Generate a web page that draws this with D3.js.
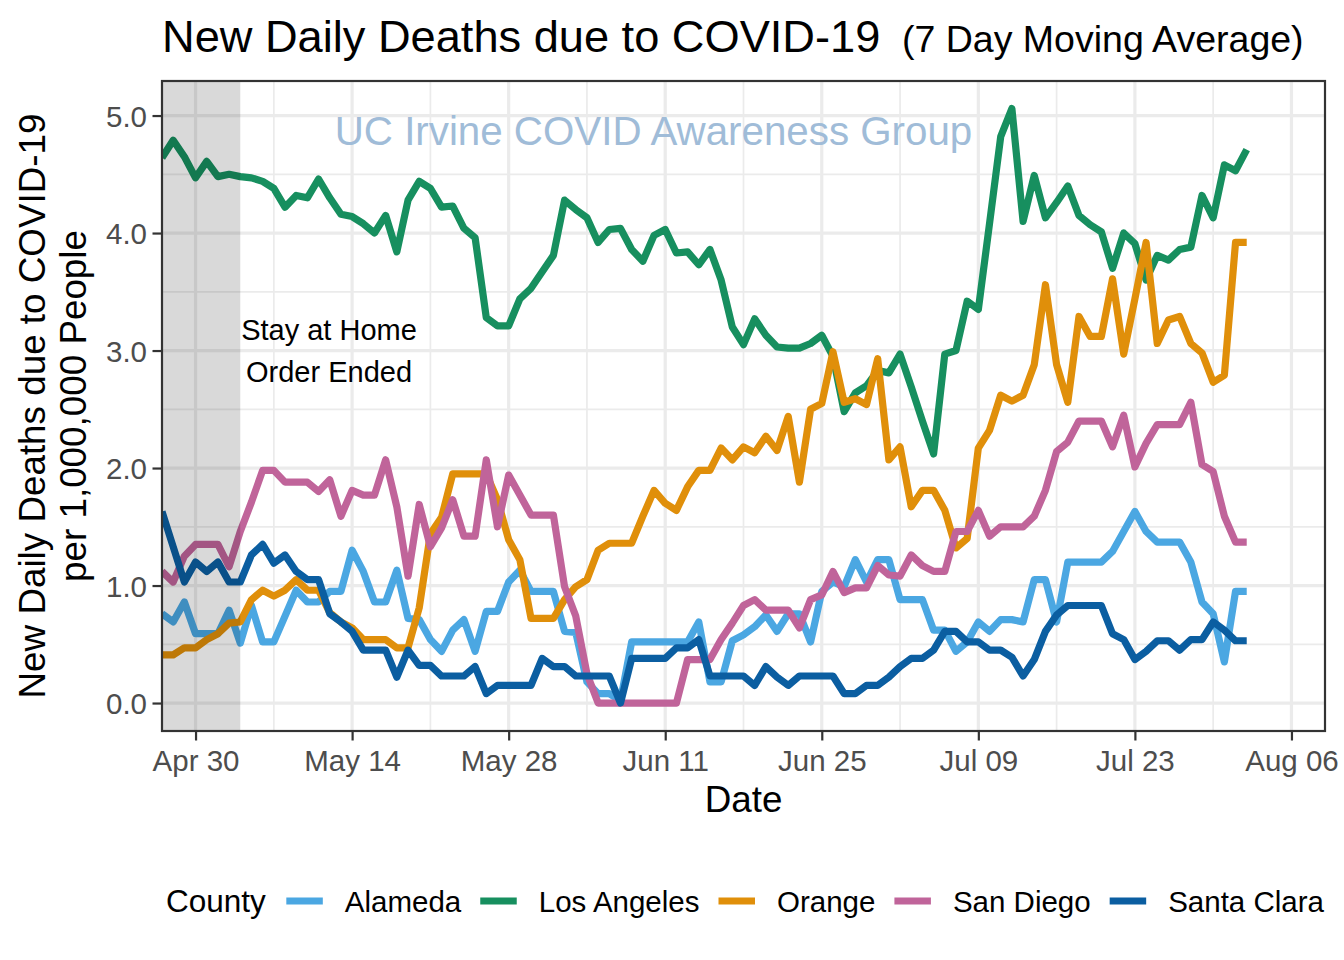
<!DOCTYPE html>
<html><head><meta charset="utf-8">
<script src="https://cdn.jsdelivr.net/npm/d3@7"></script>
<style>
body{margin:0;background:#fff}
svg{display:block}
text{font-family:"Liberation Sans",Arial,Helvetica,sans-serif}
</style>
</head><body>
<svg id="chart" width="1344" height="960"></svg>
<script>
// ---------- data ----------
const firstDate = "2020-04-27";
const lastDate  = "2020-08-02";
const xLimits   = ["2020-04-27", "2020-08-09"];
const xTickDates  = ["2020-04-30","2020-05-14","2020-05-28","2020-06-11","2020-06-25","2020-07-09","2020-07-23","2020-08-06"];
const xMinorDates = ["2020-05-07","2020-05-21","2020-06-04","2020-06-18","2020-07-02","2020-07-16","2020-07-30"];
const yLimits = [-0.238, 5.294];
const yTicks  = [0, 1, 2, 3, 4, 5];
const yMinor  = [0.5, 1.5, 2.5, 3.5, 4.5];
const stayHomeEnd = "2020-05-04";

const counties = ["Alameda", "Los Angeles", "Orange", "San Diego", "Santa Clara"];
const countyColors = ["#4BA7E2", "#178F5F", "#E08F0A", "#C0649A", "#0B5EA1"];

const alameda = [0.76,0.69,0.86,0.59,0.59,0.59,0.79,0.51,0.83,0.52,0.52,0.74,0.96,0.86,0.86,0.95,0.95,1.30,1.12,0.86,
  0.86,1.13,0.72,0.71,0.54,0.44,0.62,0.71,0.44,0.78,0.78,1.03,1.13,0.95,0.95,0.95,0.61,0.60,0.18,0.08,
  0.08,0.02,0.52,0.52,0.52,0.52,0.52,0.52,0.69,0.18,0.18,0.53,0.58,0.65,0.75,0.61,0.76,0.76,0.52,0.95,
  1.03,0.99,1.22,1.03,1.22,1.22,0.88,0.88,0.88,0.62,0.62,0.44,0.52,0.69,0.61,0.71,0.71,0.69,1.05,1.05,
  0.69,1.20,1.20,1.20,1.20,1.29,1.46,1.63,1.46,1.37,1.37,1.37,1.20,0.86,0.76,0.35,0.95,0.95];
const losAngeles = [4.64,4.79,4.65,4.47,4.61,4.48,4.50,4.48,4.47,4.44,4.38,4.22,4.32,4.30,4.46,4.30,4.16,4.14,4.08,4.00,
  4.15,3.84,4.28,4.44,4.38,4.22,4.23,4.04,3.96,3.28,3.21,3.21,3.44,3.53,3.67,3.81,4.28,4.20,4.13,3.92,
  4.03,4.04,3.86,3.76,3.98,4.03,3.83,3.84,3.73,3.86,3.60,3.20,3.05,3.27,3.13,3.03,3.02,3.02,3.06,3.13,
  2.95,2.48,2.64,2.70,2.83,2.81,2.97,2.69,2.40,2.12,2.97,3.00,3.42,3.35,4.08,4.82,5.06,4.10,4.49,4.13,
  4.26,4.40,4.15,4.07,4.01,3.70,4.00,3.91,3.60,3.81,3.77,3.86,3.88,4.32,4.13,4.58,4.53,4.71];
const orange = [0.41,0.41,0.47,0.47,0.54,0.59,0.68,0.69,0.88,0.96,0.91,0.96,1.05,0.96,0.96,0.77,0.69,0.64,0.54,0.54,
  0.54,0.47,0.47,0.81,1.44,1.58,1.95,1.95,1.95,1.95,1.73,1.39,1.22,0.72,0.72,0.72,0.88,0.99,1.05,1.30,
  1.36,1.36,1.36,1.59,1.81,1.70,1.64,1.84,1.98,1.98,2.17,2.07,2.18,2.13,2.27,2.15,2.44,1.88,2.50,2.55,
  2.99,2.56,2.59,2.54,2.93,2.07,2.18,1.67,1.81,1.81,1.64,1.32,1.40,2.17,2.32,2.62,2.57,2.62,2.88,3.56,
  2.88,2.56,3.29,3.12,3.12,3.61,2.97,3.44,3.92,3.06,3.26,3.29,3.06,2.98,2.73,2.79,3.92,3.92];
const sanDiego = [1.12,1.03,1.25,1.35,1.35,1.35,1.16,1.46,1.71,1.98,1.98,1.88,1.88,1.88,1.80,1.90,1.59,1.81,1.77,1.77,
  2.07,1.67,1.08,1.69,1.33,1.49,1.73,1.42,1.42,2.07,1.50,1.94,1.77,1.60,1.60,1.60,0.99,0.74,0.25,0.00,
  0.00,0.00,0.00,0.00,0.00,0.00,0.00,0.37,0.37,0.37,0.54,0.68,0.83,0.88,0.79,0.79,0.79,0.64,0.88,0.92,
  1.12,0.94,0.98,0.98,1.17,1.09,1.08,1.26,1.17,1.12,1.12,1.46,1.46,1.64,1.42,1.50,1.50,1.50,1.59,1.81,
  2.14,2.22,2.40,2.40,2.40,2.18,2.45,2.01,2.21,2.37,2.37,2.37,2.56,2.03,1.97,1.59,1.37,1.37];
const santaClara = [1.63,1.33,1.03,1.20,1.12,1.20,1.03,1.03,1.26,1.35,1.19,1.26,1.12,1.05,1.05,0.76,0.69,0.61,0.45,0.45,
  0.45,0.22,0.45,0.32,0.32,0.23,0.23,0.23,0.31,0.08,0.15,0.15,0.15,0.15,0.38,0.31,0.31,0.23,0.23,0.23,
  0.23,0.00,0.38,0.38,0.38,0.38,0.47,0.47,0.54,0.23,0.23,0.23,0.23,0.15,0.31,0.22,0.15,0.23,0.23,0.23,
  0.23,0.08,0.08,0.15,0.15,0.22,0.31,0.38,0.38,0.45,0.61,0.61,0.52,0.52,0.45,0.45,0.39,0.23,0.37,0.61,
  0.75,0.83,0.83,0.83,0.83,0.59,0.54,0.37,0.44,0.53,0.53,0.45,0.54,0.54,0.69,0.62,0.53,0.53];
const seriesValues = [alameda, losAngeles, orange, sanDiego, santaClara];

// ---------- layout ----------
const svg = d3.select("#chart");
const parse = d3.utcParse("%Y-%m-%d");
const panel = {left: 162, right: 1325, top: 81, bottom: 731};
const font = '"Liberation Sans",Arial,Helvetica,sans-serif';

const dates = d3.utcDay.range(parse(firstDate), d3.utcDay.offset(parse(lastDate), 1));

const x = d3.scaleUtc().domain(xLimits.map(parse)).range([panel.left, panel.right]);
const y = d3.scaleLinear().domain(yLimits).range([panel.bottom, panel.top]);

svg.append("rect").attr("width", 1344).attr("height", 960).attr("fill", "#fff");

svg.append("defs").append("clipPath").attr("id", "clip")
  .append("rect").attr("x", panel.left).attr("y", panel.top)
  .attr("width", panel.right - panel.left).attr("height", panel.bottom - panel.top);

const grid = svg.append("g");
grid.selectAll(".vmin").data(xMinorDates.map(parse)).join("line")
  .attr("x1", d => x(d)).attr("x2", d => x(d)).attr("y1", panel.top).attr("y2", panel.bottom)
  .attr("stroke", "#EBEBEB").attr("stroke-width", 1.7);
grid.selectAll(".hmin").data(yMinor).join("line")
  .attr("y1", d => y(d)).attr("y2", d => y(d)).attr("x1", panel.left).attr("x2", panel.right)
  .attr("stroke", "#EBEBEB").attr("stroke-width", 1.7);
grid.selectAll(".vmaj").data(xTickDates.map(parse)).join("line")
  .attr("x1", d => x(d)).attr("x2", d => x(d)).attr("y1", panel.top).attr("y2", panel.bottom)
  .attr("stroke", "#EBEBEB").attr("stroke-width", 3.2);
grid.selectAll(".hmaj").data(yTicks).join("line")
  .attr("y1", d => y(d)).attr("y2", d => y(d)).attr("x1", panel.left).attr("x2", panel.right)
  .attr("stroke", "#EBEBEB").attr("stroke-width", 3.2);

// watermark
svg.append("text").attr("x", 653.5).attr("y", 145).attr("text-anchor", "middle")
  .attr("font-size", 40.3).attr("fill", "#A0BCD8").text("UC Irvine COVID Awareness Group");

// lines
const line = d3.line().x((d, i) => x(dates[i])).y(d => y(d));
const lines = svg.append("g").attr("clip-path", "url(#clip)");
seriesValues.forEach((vals, k) => {
  lines.append("path").datum(vals).attr("d", line)
    .attr("fill", "none").attr("stroke", countyColors[k]).attr("stroke-width", 7.2)
    .attr("stroke-linejoin", "round").attr("stroke-linecap", "butt");
});

// stay at home shading (translucent, on top of lines)
svg.append("rect").attr("x", panel.left).attr("y", panel.top)
  .attr("width", x(parse(stayHomeEnd)) - panel.left).attr("height", panel.bottom - panel.top)
  .attr("fill", "#000").attr("fill-opacity", 0.15);

// annotation
const ann = svg.append("text").attr("text-anchor", "middle").attr("font-size", 29).attr("fill", "#000");
ann.append("tspan").attr("x", 329).attr("y", 340).text("Stay at Home");
ann.append("tspan").attr("x", 329).attr("y", 382).text("Order Ended");

// panel border
svg.append("rect").attr("x", panel.left).attr("y", panel.top)
  .attr("width", panel.right - panel.left).attr("height", panel.bottom - panel.top)
  .attr("fill", "none").attr("stroke", "#333333").attr("stroke-width", 2.2);

// axes
const xAxis = d3.axisBottom(x).tickValues(xTickDates.map(parse)).tickFormat(d3.utcFormat("%b %d"))
  .tickSize(9.5).tickPadding(8);
const gx = svg.append("g").attr("transform", `translate(0,${panel.bottom})`).call(xAxis);
gx.select(".domain").remove();
gx.selectAll(".tick line").attr("stroke", "#333333").attr("stroke-width", 2.2);
gx.selectAll(".tick text").attr("font-size", 29.5).attr("fill", "#4D4D4D").attr("font-family", font)
  .attr("dy", null).attr("y", 40);

const yAxis = d3.axisLeft(y).tickValues(yTicks).tickFormat(d3.format(".1f")).tickSize(9.5).tickPadding(6);
const gy = svg.append("g").attr("transform", `translate(${panel.left},0)`).call(yAxis);
gy.select(".domain").remove();
gy.selectAll(".tick line").attr("stroke", "#333333").attr("stroke-width", 2.2);
gy.selectAll(".tick text").attr("font-size", 29.5).attr("fill", "#4D4D4D").attr("font-family", font)
  .attr("dy", "0.36em").attr("x", -15);

// axis titles
svg.append("text").attr("x", (panel.left + panel.right) / 2).attr("y", 812).attr("text-anchor", "middle")
  .attr("font-size", 36.8).attr("fill", "#000").text("Date");
const yt = svg.append("text").attr("transform", `translate(0,${(panel.top + panel.bottom) / 2}) rotate(-90)`)
  .attr("text-anchor", "middle").attr("font-size", 36.8).attr("fill", "#000");
yt.append("tspan").attr("x", 0).attr("y", 45).text("New Daily Deaths due to COVID-19");
yt.append("tspan").attr("x", 0).attr("y", 86).text("per 1,000,000 People");

// title
svg.append("text").attr("x", 162).attr("y", 52).attr("font-size", 45.2).attr("fill", "#000")
  .text("New Daily Deaths due to COVID-19");
svg.append("text").attr("x", 902).attr("y", 52).attr("font-size", 37.5).attr("fill", "#000")
  .text("(7 Day Moving Average)");

// legend
const leg = svg.append("g");
const legY = 901;
const legTitle = leg.append("text").attr("x", 166).attr("y", legY + 11).attr("font-size", 31.5).attr("fill", "#000").text("County");
let cx = 166 + legTitle.node().getComputedTextLength() + 20.5;
counties.forEach((c, k) => {
  leg.append("line").attr("x1", cx).attr("x2", cx + 36.5).attr("y1", legY).attr("y2", legY)
    .attr("stroke", countyColors[k]).attr("stroke-width", 7.2);
  const t = leg.append("text").attr("x", cx + 58.5).attr("y", legY + 10.5).attr("font-size", 29.5).attr("fill", "#000").text(c);
  cx = cx + 58.5 + t.node().getComputedTextLength() + 19;
});
</script>
</body></html>
